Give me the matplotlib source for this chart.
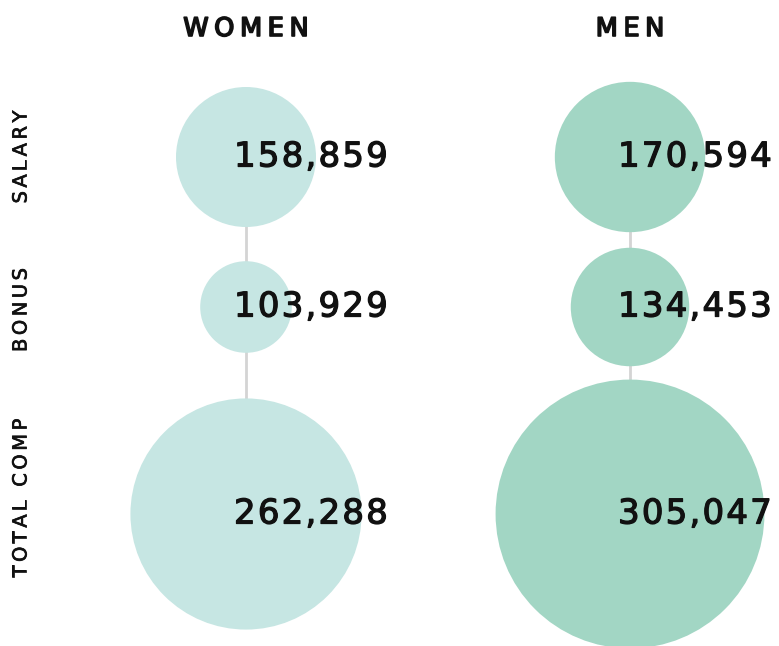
import matplotlib.pyplot as plt
import matplotlib.patheffects as pe
from matplotlib.patches import Circle
from matplotlib.font_manager import FontProperties, findfont
from matplotlib.ft2font import FT2Font

# Дані
groups = ["WOMEN", "MEN"]
rows = ["SALARY", "BONUS", "TOTAL COMP"]
women = [158859, 103929, 262288]
men = [170594, 134453, 305047]
colors = ["#c6e6e3", "#a2d6c4"]

# Розміщення (в пікселях)
col_x = [246, 630]
row_y = [157, 307, 514]
row_label_y = [157, 310, 498]
scale = 70 / 158859  # радіус у пікселях пропорційний значенню
DPI = 100


# Текст з розрядкою між літерами
def tracked(ax, x, y, s, size, spacing, ha="left", rotation=0, stroke=0.0, **kw):
    font = FT2Font(findfont(FontProperties(family="DejaVu Sans")))
    font.set_size(size, DPI)
    advs = [font.load_char(ord(c)).linearHoriAdvance / 65536 for c in s]
    total = sum(advs) + spacing * (len(s) - 1)
    pos = -total / 2 if ha == "center" else 0
    effects = [pe.withStroke(linewidth=stroke, foreground="#111111")] if stroke else []
    for c, a in zip(s, advs):
        mid = pos + a / 2
        if rotation == 90:
            px, py = x, y - mid
        else:
            px, py = x + mid, y
        ax.text(px, py, c, fontsize=size, ha="center", va="center", rotation=rotation,
                color="#111111", family="DejaVu Sans", path_effects=effects, **kw)
        pos += a + spacing


fig = plt.figure(figsize=(7.79, 6.46), dpi=DPI)
ax = fig.add_axes([0, 0, 1, 1])
ax.set_xlim(0, 779)
ax.set_ylim(646, 0)
ax.axis("off")

for x, values, color, name in zip(col_x, [women, men], colors, groups):
    ax.plot([x, x], [row_y[0], row_y[-1]], color="#d4d4d4", lw=2, zorder=1)
    for y, v in zip(row_y, values):
        ax.add_patch(Circle((x, y), v * scale, color=color, lw=0, zorder=2))
        tracked(ax, x - 12, y, f"{v:,}", 24.5, 2.2, stroke=0.9, zorder=3)
    tracked(ax, x, 29, name, 18.5, 5.5, ha="center", stroke=1.2)

for y, label in zip(row_label_y, rows):
    tracked(ax, 21, y, label, 14, 3.5, ha="center", rotation=90, stroke=0.5)

fig.savefig("out.png", dpi=DPI)
